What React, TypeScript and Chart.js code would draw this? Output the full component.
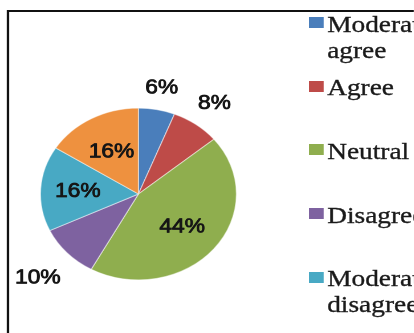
import React, { useEffect, useRef } from "react";
import { Chart, registerables } from "chart.js";

Chart.register(...registerables);

// ---- data ----
const categories = [
  "Moderately agree",
  "Agree",
  "Neutral",
  "Disagree",
  "Moderately disagree",
  "Strongly agree",
];
const shares = [6, 8, 44, 10, 16, 16];
const valueLabels = ["6%", "8%", "44%", "10%", "16%", "16%"];
const sliceColors = ["#4A7EBB", "#BE4B48", "#8FAE4E", "#7E62A0", "#48A9C4", "#EE913F"];
// radial position of each percentage label, as a fraction of the pie radius
const labelRadius = [1.27, 1.32, 0.58, 1.41, 0.62, 0.57];

// the whole picture is horizontally stretched
const SX = 1.14;
const W = 414 / SX;
const H = 333;

const pctPlugin = {
  id: "pctLabels",
  afterDatasetsDraw(chart: any) {
    const ctx = chart.ctx;
    const meta = chart.getDatasetMeta(0);
    ctx.save();
    ctx.font = '20px "Liberation Sans", Arial, sans-serif';
    ctx.fillStyle = "#161616";
    ctx.strokeStyle = "#161616";
    ctx.lineWidth = 0.8;
    ctx.lineJoin = "round";
    ctx.textAlign = "center";
    ctx.textBaseline = "middle";
    meta.data.forEach((arc: any, i: number) => {
      const p = arc.getProps(["x", "y", "startAngle", "endAngle", "outerRadius"], true);
      const mid = (p.startAngle + p.endAngle) / 2;
      const r = p.outerRadius * labelRadius[i];
      const tx = p.x + Math.cos(mid) * r;
      const ty = p.y + Math.sin(mid) * r + 1;
      ctx.strokeText(valueLabels[i], tx, ty);
      ctx.fillText(valueLabels[i], tx, ty);
    });
    ctx.restore();
  },
};

export default function App() {
  const ref = useRef<HTMLCanvasElement>(null);

  useEffect(() => {
    if (!ref.current) return;
    const chart = new Chart(ref.current, {
      type: "pie",
      data: {
        labels: categories,
        datasets: [
          {
            data: shares,
            backgroundColor: sliceColors,
            borderColor: "rgba(255,255,255,0.5)",
            borderWidth: 1,
          },
        ],
      },
      options: {
        responsive: false,
        animation: false,
        devicePixelRatio: 2,
        layout: { padding: { left: 35, top: 107.5, right: W - 35 - 173, bottom: H - 107.5 - 173 } },
        plugins: {
          legend: { display: false },
          tooltip: { enabled: false },
        },
      },
      plugins: [pctPlugin],
    });
    return () => chart.destroy();
  }, []);

  return (
    <div
      style={{
        position: "fixed",
        left: 0,
        top: 0,
        width: 414,
        height: 333,
        overflow: "hidden",
        background: "#fff",
      }}
    >
      <div
        style={{
          position: "absolute",
          left: 0,
          top: 0,
          width: W,
          height: H,
          overflow: "hidden",
          transform: `scaleX(${SX})`,
          transformOrigin: "0 0",
        }}
      >
        <div
          style={{
            position: "absolute",
            left: 6,
            top: 10,
            width: 600,
            height: 600,
            border: "2px solid #111",
            boxSizing: "border-box",
          }}
        />
        <canvas
          ref={ref}
          style={{ position: "absolute", left: 0, top: 0, width: W, height: H, display: "block" }}
          width={W}
          height={H}
        />
        {categories.map((c, i) => (
          <div
            key={c}
            style={{
              position: "absolute",
              left: 271,
              top: 10.6 + 63.7 * i,
              width: 200,
            }}
          >
            <span
              style={{
                position: "absolute",
                left: 0,
                top: 6.4,
                width: 13,
                height: 11,
                background: sliceColors[i],
              }}
            />
            <div
              style={{
                marginLeft: 16,
                width: 124,
                fontFamily: '"Liberation Serif", "Times New Roman", serif',
                fontSize: 24,
                lineHeight: "26px",
                color: "#1a1a1a",
                WebkitTextStroke: "0.35px #1a1a1a",
              }}
            >
              {c}
            </div>
          </div>
        ))}
      </div>
    </div>
  );
}
